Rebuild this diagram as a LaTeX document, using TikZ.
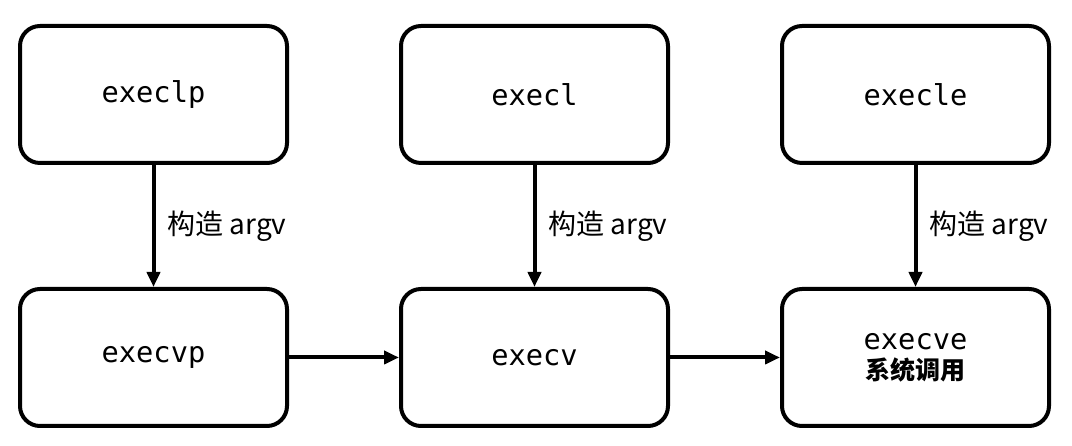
\documentclass[tikz,border=0pt]{standalone}
\usepackage{fontspec}
\setmonofont{DejaVu Sans Mono}
\newfontfamily\cjk{Noto Sans CJK SC}
\usetikzlibrary{positioning,arrows.meta}
\tikzset{
  func/.style={draw=black,line width=4pt,rounded corners=20pt,minimum width=267pt,
    minimum height=137pt,inner sep=0pt,align=center,
    font=\fontsize{28.7}{32}\selectfont\ttfamily},
  call/.style={line width=4pt,-{Triangle[length=15pt,width=13pt]}},
  build/.style={font=\fontsize{28}{30}\selectfont\cjk,inner sep=0pt,right=12pt}
}

\begin{document}
\begin{tikzpicture}[x=1pt,y=1pt,node distance=122pt and 110pt]
  \useasboundingbox (0,0) rectangle (1072,446);
  \node[func] (execvp) at (153.5,88.5) {execvp};
  \node[func,right=of execvp] (execv) {execv};
  \node[func,right=of execv] (execve) {execve\\[-2pt]{\fontsize{25}{28}\selectfont\cjk\bfseries 系统调用}};
  \node[func,above=of execvp] (execlp) {execlp};
  \node[func,above=of execv] (execl) {execl};
  \node[func,above=of execve] (execle) {execle};
  % build argv, then call down the chain
  \draw[call] (execlp) -- node[build] {构造 argv} (execvp);
  \draw[call] (execl) -- node[build] {构造 argv} (execv);
  \draw[call] (execle) -- node[build] {构造 argv} (execve);
  \draw[call] (execvp) -- (execv);
  \draw[call] (execv) -- (execve);
\end{tikzpicture}
\end{document}
